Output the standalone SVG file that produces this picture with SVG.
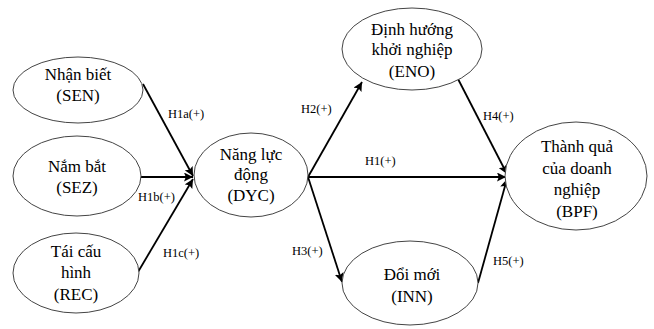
<svg xmlns="http://www.w3.org/2000/svg" width="654" height="329" viewBox="0 0 654 329">
<defs>
<marker id="ah" viewBox="0 0 10 10" refX="10" refY="5" markerWidth="5" markerHeight="5" orient="auto" markerUnits="strokeWidth">
<path d="M0,0 L10,5 L0,10 L2,5 Z" fill="#000"/>
</marker>
</defs>
<style>
.node ellipse{fill:#fff;stroke:#444;stroke-width:1}
.node text{font-family:"Liberation Serif","Times New Roman",serif;font-size:17px;fill:#000;text-anchor:middle}
.edge{stroke:#000;stroke-width:1.8;fill:none;marker-end:url(#ah)}
.lbl{font-family:"Liberation Serif","Times New Roman",serif;font-size:12.5px;fill:#000}
</style>
<rect width="654" height="329" fill="#fff"/>
<g id="connectors">
<line class="edge" x1="143" y1="84" x2="193" y2="176"/>
<line class="edge" x1="140" y1="177" x2="193" y2="177"/>
<line class="edge" x1="138" y1="272" x2="193" y2="179"/>
<line class="edge" x1="308" y1="177" x2="362" y2="82"/>
<line class="edge" x1="308" y1="177" x2="506" y2="177"/>
<line class="edge" x1="308" y1="177" x2="342" y2="282"/>
<line class="edge" x1="457" y1="77" x2="507" y2="174"/>
<line class="edge" x1="478" y1="283" x2="507" y2="179"/>
<text class="lbl" x="168" y="118">H1a(+)</text>
<text class="lbl" x="138" y="201">H1b(+)</text>
<text class="lbl" x="163" y="257">H1c(+)</text>
<text class="lbl" x="301" y="113">H2(+)</text>
<text class="lbl" x="365" y="165">H1(+)</text>
<text class="lbl" x="292" y="255">H3(+)</text>
<text class="lbl" x="483" y="120">H4(+)</text>
<text class="lbl" x="493" y="265">H5(+)</text>
</g>
<g id="SEN" class="node">
<ellipse cx="78" cy="90" rx="65" ry="33"/>
<text x="78" y="80">Nhận biết</text>
<text x="78" y="101">(SEN)</text>
</g>
<g id="SEZ" class="node">
<ellipse cx="77" cy="176" rx="64" ry="40"/>
<text x="77" y="172">Nắm bắt</text>
<text x="77" y="193">(SEZ)</text>
</g>
<g id="REC" class="node">
<ellipse cx="76" cy="273" rx="63" ry="40"/>
<text x="76" y="257">Tái cấu</text>
<text x="76" y="278">hình</text>
<text x="76" y="300">(REC)</text>
</g>
<g id="DYC" class="node">
<ellipse cx="251" cy="175" rx="57" ry="42"/>
<text x="251" y="160">Năng lực</text>
<text x="251" y="180">động</text>
<text x="251" y="201">(DYC)</text>
</g>
<g id="ENO" class="node">
<ellipse cx="412" cy="49" rx="70" ry="41"/>
<text x="412" y="35">Định hướng</text>
<text x="412" y="55">khởi nghiệp</text>
<text x="412" y="77">(ENO)</text>
</g>
<g id="INN" class="node">
<ellipse cx="410" cy="283" rx="68" ry="42"/>
<text x="412" y="280">Đổi mới</text>
<text x="412" y="302">(INN)</text>
</g>
<g id="BPF" class="node">
<ellipse cx="576" cy="176" rx="71" ry="54"/>
<text x="577" y="152">Thành quả</text>
<text x="577" y="174">của doanh</text>
<text x="577" y="195">nghiệp</text>
<text x="577" y="217">(BPF)</text>
</g>
</svg>
